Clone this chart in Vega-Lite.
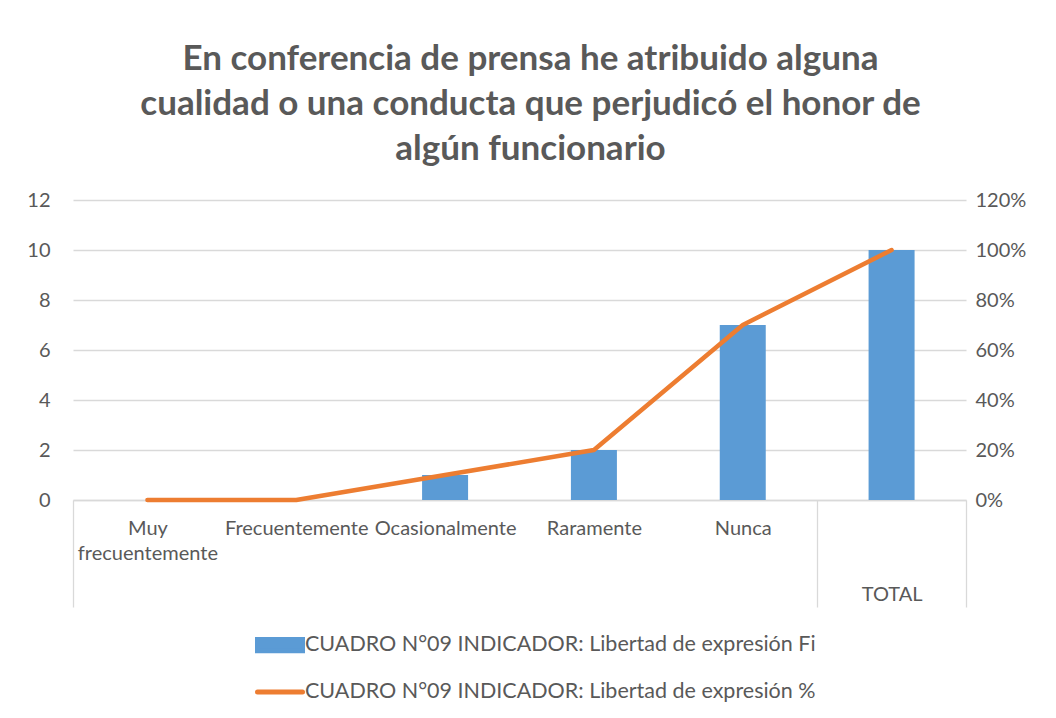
{
  "$schema": "https://vega.github.io/schema/vega-lite/v6.json",
  "width": 893,
  "height": 300,
  "autosize": {"type": "none"},
  "padding": {"left": 73, "top": 200, "right": 90, "bottom": 218},
  "background": "white",
  "config": {
    "font": "Lato",
    "view": {"stroke": null},
    "axis": {"labelFont": "Lato", "labelColor": "#595959", "labelFontSize": 20, "titleFont": "Lato"}
  },
  "title": {
    "text": ["En conferencia de prensa he  atribuido alguna", "cualidad o una conducta que perjudicó el honor de", "algún funcionario"],
    "font": "Lato",
    "fontSize": 35,
    "fontWeight": "bold",
    "color": "#595959",
    "lineHeight": 45,
    "anchor": "middle",
    "dx": 11,
    "offset": 23
  },
  "data": {
    "values": [
      {"cat": "Muy frecuentemente", "fi": 0, "pct": 0},
      {"cat": "Frecuentemente", "fi": 0, "pct": 0},
      {"cat": "Ocasionalmente", "fi": 1, "pct": 0.1},
      {"cat": "Raramente", "fi": 2, "pct": 0.2},
      {"cat": "Nunca", "fi": 7, "pct": 0.7},
      {"cat": "TOTAL", "fi": 10, "pct": 1.0}
    ]
  },
  "layer": [
    {
      "mark": {"type": "bar", "width": 46},
      "encoding": {
        "x": {
          "field": "cat",
          "type": "nominal",
          "sort": null,
          "scale": {"paddingInner": 0, "paddingOuter": 0},
          "axis": {
            "title": null,
            "labelAngle": 0,
            "labelAlign": "center",
            "labelBaseline": "top",
            "domain": true,
            "domainColor": "#d9d9d9",
            "domainWidth": 1.3,
            "ticks": true,
            "tickBand": "extent",
            "tickSize": 107,
            "tickWidth": 1.3,
            "tickColor": {"condition": {"test": "datum.extra || datum.value === 'Nunca' || datum.value === 'TOTAL'", "value": "#d9d9d9"}, "value": "transparent"},
            "labelPadding": {"condition": {"test": "datum.value === 'TOTAL'", "value": -23}, "value": -89},
            "labelLineHeight": 25,
            "labelOverlap": false,
            "labelBound": false,
            "labelLimit": 0,
            "labelExpr": "datum.value === 'Muy frecuentemente' ? ['Muy', 'frecuentemente'] : datum.label",
            "grid": false
          }
        },
        "y": {
          "field": "fi",
          "type": "quantitative",
          "scale": {"domain": [0, 12], "nice": false},
          "axis": {
            "title": null,
            "values": [0, 2, 4, 6, 8, 10, 12],
            "domain": false,
            "ticks": false,
            "grid": true,
            "gridColor": "#d9d9d9",
            "gridWidth": 1.3,
            "labelPadding": 23
          }
        },
        "color": {
          "datum": "CUADRO N°09 INDICADOR: Libertad de expresión Fi",
          "type": "nominal",
          "scale": {
            "domain": ["CUADRO N°09 INDICADOR: Libertad de expresión Fi", "CUADRO N°09 INDICADOR: Libertad de expresión %"],
            "range": ["#5B9BD5", "#ED7D31"]
          },
          "legend": {
            "title": null,
            "orient": "none",
            "direction": "vertical",
            "legendX": 182,
            "legendY": 420,
            "padding": 0,
            "rowPadding": 6,
            "labelFont": "Lato",
            "labelFontSize": 21.5,
            "labelColor": "#595959",
            "labelOffset": 0,
            "labelLimit": 1000,
            "symbolSize": 2025,
            "encode": {
              "symbols": {
                "update": {
                  "shape": {"signal": "indexof(datum.value, '%') >= 0 ? 'stroke' : 'M-1,-0.25H1V0.25H-1Z'"},
                  "fill": {"signal": "indexof(datum.value, '%') >= 0 ? 'transparent' : '#5B9BD5'"},
                  "stroke": {"signal": "indexof(datum.value, '%') >= 0 ? '#ED7D31' : 'transparent'"},
                  "strokeWidth": {"value": 5},
                  "strokeCap": {"value": "round"},
                  "size": {"value": 2025},
                  "opacity": {"value": 1}
                }
              }
            }
          }
        }
      }
    },
    {
      "mark": {"type": "line", "strokeWidth": 4.5, "strokeCap": "round", "strokeJoin": "round"},
      "encoding": {
        "x": {"field": "cat", "type": "nominal", "sort": null},
        "y": {
          "field": "pct",
          "type": "quantitative",
          "scale": {"domain": [0, 1.2], "nice": false},
          "axis": {
            "title": null,
            "orient": "right",
            "format": ".0%",
            "values": [0, 0.2, 0.4, 0.6, 0.8, 1.0, 1.2],
            "domain": false,
            "ticks": false,
            "grid": false,
            "labelPadding": 9
          }
        },
        "color": {"datum": "CUADRO N°09 INDICADOR: Libertad de expresión %", "type": "nominal"}
      }
    }
  ],
  "resolve": {"scale": {"y": "independent"}}
}
